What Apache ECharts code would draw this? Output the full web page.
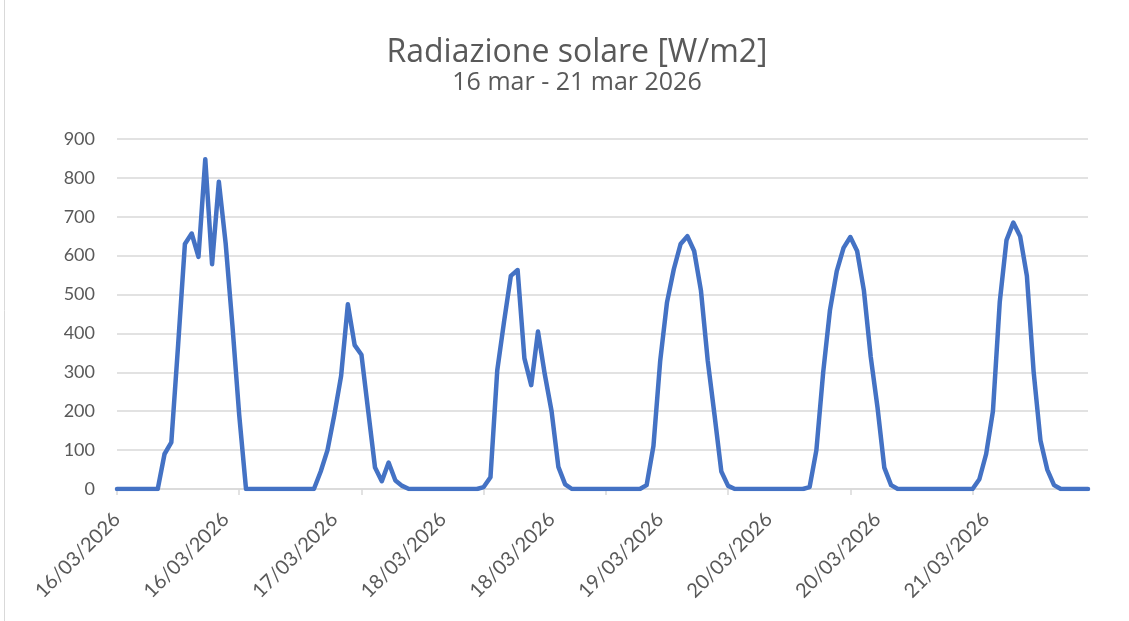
<!DOCTYPE html>
<html>
<head>
<meta charset="utf-8">
<script src="https://cdn.jsdelivr.net/npm/echarts@6/dist/echarts.min.js"></script>
<style>
  html, body { margin: 0; padding: 0; background: #fff; }
  #chart { width: 1129px; height: 621px; }
</style>
</head>
<body>
<div id="chart"></div>
<script>
// giorni e valori orari (W/m2)
var days = ['16/03/2026', '17/03/2026', '18/03/2026', '19/03/2026', '20/03/2026', '21/03/2026'];

var rad16 = [0, 0, 0, 0, 0, 0, 0, 90, 120, 370, 630, 657, 597, 848, 578, 790, 632, 420, 190, 0, 0, 0, 0, 0];
var rad17 = [0, 0, 0, 0, 0, 0, 45, 100, 190, 290, 475, 370, 345, 200, 55, 20, 68, 22, 8, 0, 0, 0, 0, 0];
var rad18 = [0, 0, 0, 0, 0, 0, 5, 30, 305, 430, 548, 563, 336, 267, 405, 295, 200, 57, 12, 0, 0, 0, 0, 0];
var rad19 = [0, 0, 0, 0, 0, 0, 10, 110, 330, 480, 565, 630, 650, 612, 510, 330, 190, 45, 8, 0, 0, 0, 0, 0];
var rad20 = [0, 0, 0, 0, 0, 0, 5, 100, 300, 460, 560, 620, 648, 612, 510, 340, 210, 55, 10, 0, 0, 0, 0, 0];
var rad21 = [0, 0, 0, 0, 0, 0, 0, 25, 90, 200, 480, 640, 685, 650, 548, 300, 125, 50, 10, 0, 0, 0, 0, 0];

var titleText = 'Radiazione solare [W/m2]';
var subtitleText = '16 mar - 21 mar 2026';

var categories = [];
days.forEach(function (d) {
    for (var h = 0; h < 24; h++) {
        categories.push(d + ' ' + (h < 10 ? '0' + h : h) + ':00');
    }
});
var values = [].concat(rad16, rad17, rad18, rad19, rad20, rad21);

var grey = '#595959';
var gridGrey = '#d9d9d9';

var myChart = echarts.init(document.getElementById('chart'));
myChart.setOption({
    animation: false,
    textStyle: { fontFamily: 'Lato' },
    graphic: [
        {
            type: 'text',
            x: 577, y: 53,
            style: {
                text: titleText, fontFamily: 'Open Sans', fontSize: 32,
                fill: grey, align: 'center', verticalAlign: 'middle'
            }
        },
        {
            type: 'text',
            x: 577, y: 83,
            style: {
                text: subtitleText, fontFamily: 'Open Sans', fontSize: 25,
                fill: grey, align: 'center', verticalAlign: 'middle'
            }
        },
        {
            type: 'line',
            shape: { x1: 4.5, y1: 0, x2: 4.5, y2: 621 },
            style: { stroke: gridGrey, lineWidth: 1 }
        }
    ],
    grid: { left: 117, right: 41, top: 139, bottom: 132 },
    xAxis: {
        type: 'category',
        data: categories,
        boundaryGap: false,
        axisLine: { lineStyle: { color: gridGrey, width: 1.5 } },
        axisTick: { interval: 17, length: 6, lineStyle: { color: gridGrey, width: 1.5 } },
        axisLabel: {
            interval: 15,
            rotate: 45,
            margin: 27,
            fontSize: 20,
            color: grey,
            formatter: function (v) { return v.split(' ')[0]; }
        },
        splitLine: { show: false }
    },
    yAxis: {
        type: 'value',
        min: 0,
        max: 900,
        interval: 100,
        axisLine: { show: false },
        axisTick: { show: false },
        axisLabel: { fontSize: 18, color: grey, margin: 22 },
        splitLine: { lineStyle: { color: gridGrey, width: 1.5 } }
    },
    series: [{
        name: 'Radiazione solare',
        type: 'line',
        data: values,
        showSymbol: false,
        symbol: 'none',
        lineStyle: { color: '#4472C4', width: 4.5, join: 'round', cap: 'round' }
    }]
});
</script>
</body>
</html>
